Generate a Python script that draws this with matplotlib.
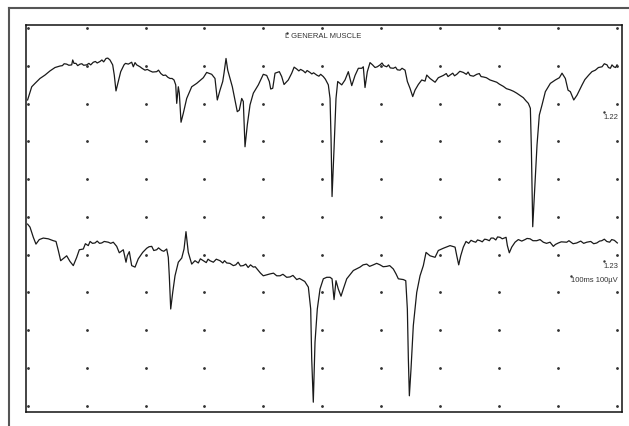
import numpy as np
import matplotlib
matplotlib.use("Agg")
import matplotlib.pyplot as plt
from matplotlib.lines import Line2D

plt.rcParams['font.family'] = ['Liberation Sans', 'DejaVu Sans']

# trace 1.22 : time (ms) and amplitude (uV)
t1 = [0, 7.0, 12.6, 21.0, 29.5, 38.0, 46.5, 55.0, 66.3, 74.8, 76.5, 78.7, 88.9, 100.2,
      111.4, 122.8, 133.0, 139.7, 144.3, 147.0, 149.9, 153.8, 157.9, 163.5, 170.8, 176.5,
      179.3, 182.2, 190.6, 199.1, 207.6, 218.9, 230.1, 241.5, 248.3, 251.2, 252.9, 255.6,
      257.3, 260.2, 264.1, 269.8, 278.3, 286.8, 298.0, 303.7, 312.2, 317.8, 321.7, 326.3,
      330.9, 333.1, 336.5, 339.4, 343.3, 347.2, 351.7, 355.6, 359.0, 363.1, 365.8, 368.7,
      372.6, 377.2, 382.8, 391.3, 399.7, 405.5, 409.9, 412.3, 415.7, 419.6, 426.9, 430.9,
      434.9, 442.1, 447.9, 456.4, 467.6, 478.9, 490.3, 501.5, 510.0, 512.9, 514.6, 516.3,
      519.7, 523.0, 525.9, 532.7, 538.3, 543.9, 549.7, 555.3, 560.9, 566.6, 569.3, 572.2,
      576.1, 580.7, 589.2, 597.7, 609.0, 620.2, 631.6, 640.1, 644.0, 648.5, 653.1, 657.0,
      662.6, 668.4, 674.0, 676.9, 682.5, 691.0, 696.5, 705.0, 716.4, 727.8, 738.9, 750.3,
      761.7, 772.9, 784.2, 795.6, 806.8, 818.1, 829.5, 840.7, 849.2, 852.6, 854.3, 856.6,
      860.0, 863.9, 867.8, 872.4, 878.0, 886.5, 895.0, 901.8, 906.3, 911.9, 916.5, 920.4,
      926.2, 931.8, 940.3, 951.6, 962.8, 974.2, 982.6, 988.3, 994.0, 999.6]
a1 = [-90, -55, -46, -33, -24, -13, -4, 0, 5, 3, 16, 7, 5, 3,
      10, 12, 20, 16, 3, -24, -66, -41, -15, 3, 5, 10,
      -2, 9, -2, -11, -13, -15, -25, -33, -37, -50, -99, -55,
      -72, -149, -125, -86, -55, -46, -31, -17, -22, -33, -90, -64,
      -41, -19, 20, -11, -33, -55, -90, -121, -117, -86, -94, -214,
      -156, -103, -72, -50, -22, -25, -41, -61, -59, -19, -15, -28,
      -49, -37, -19, -8, -13, -17, -24, -28, -50, -86, -192, -346,
      -218, -86, -41, -50, -37, -15, -52, -25, -6, -6, -2, -57,
      -15, 9, -4, 3, -2, -6, -11, -11, -41, -59, -81, -64,
      -49, -37, -40, -24, -33, -43, -31, -25, -24, -22, -17, -25,
      -22, -29, -37, -43, -54, -63, -72, -84, -99, -112, -218, -426,
      -324, -209, -130, -103, -68, -46, -37, -31, -19, -33, -64, -68,
      -90, -77, -50, -24, -11, -2, 3, -6, -2, 3]
# fine ripple read along the flatter stretches of 1.22
t1_fine = [59, 62, 70, 82, 85, 92, 95, 104, 107, 115, 118, 126, 129, 136,
           166, 185, 194, 203, 212, 222, 226, 234, 238, 245,
           452, 460, 463, 471, 474, 482, 485, 494, 497, 505,
           585, 593, 601, 604, 612, 615, 624, 627, 635,
           710, 713, 721, 724, 733, 744, 747, 756, 766, 769, 778, 790, 800, 812, 824, 835, 845,
           945, 957, 968, 978, 985, 991, 997]
a1_fine = [1, 6, 2, 7, 1, 6, 2, 7, 3, 12, 8, 16, 11, 21,
           7, 3, -6, -9, -16, -11, -20, -24, -30, -33,
           -3, -13, -9, -18, -12, -21, -18, -27, -22, -35,
           3, -2, 8, 1, 3, -5, -3, -10, -6,
           -20, -28, -19, -26, -14, -22, -16, -27, -20, -28, -31, -40, -48, -60, -67, -78, -92,
           -36, -15, -4, 6, -4, 3, -4]

# trace 1.23
t2 = [0, 4.1, 9.7, 14.2, 19.8, 26.6, 35.1, 43.6, 48.2, 52.1, 56.1, 61.7, 66.3, 71.9,
      77.5, 83.3, 87.7, 94.5, 102.9, 114.3, 125.7, 136.9, 145.3, 151.1, 155.5, 162.3,
      166.9, 169.1, 172.5, 176.5, 182.2, 187.7, 195.2, 202.0, 210.5, 218.9, 227.4, 235.9,
      238.6, 240.3, 242.7, 246.1, 250.0, 255.6, 261.4, 265.3, 268.6, 272.5, 278.3, 283.9,
      289.5, 298.0, 309.3, 326.3, 337.7, 348.9, 365.8, 382.8, 391.3, 399.7, 411.1, 422.5,
      439.4, 456.4, 467.6, 476.1, 480.1, 481.8, 484.5, 487.4, 491.3, 495.9, 501.5, 507.3,
      512.9, 516.3, 519.7, 523.0, 526.9, 531.5, 535.4, 541.2, 552.4, 563.7, 575.1, 586.3,
      597.7, 609.0, 620.2, 624.8, 628.7, 637.2, 641.3, 644.0, 645.7, 647.4, 650.2, 654.1,
      659.9, 665.5, 671.1, 675.7, 682.5, 691.0, 696.5, 705.0, 716.4, 724.9, 727.8, 731.1,
      734.5, 738.9, 743.5, 755.9, 767.3, 778.6, 789.8, 801.2, 811.4, 813.6, 816.9, 821.0,
      826.6, 832.2, 843.6, 852.1, 863.4, 874.6, 886.0, 891.6, 900.1, 914.3, 931.2, 948.2,
      965.2, 973.7, 982.2, 990.6, 1000.1]
a2 = [48, 40, 13, -5, 7, 11, 9, 4, 2, -22, -49, -42, -36, -51,
      -62, -40, -20, -18, -9, -2, -2, 0, 0, -11, -28, -20,
      -53, -36, -25, -62, -66, -44, -27, -16, -11, -20, -22, -18,
      -40, -89, -177, -133, -89, -53, -42, -18, 28, -27, -58, -49,
      -55, -49, -49, -49, -55, -62, -62, -66, -75, -89, -84, -89,
      -93, -99, -102, -119, -177, -309, -424, -265, -177, -124, -97, -93,
      -93, -97, -152, -102, -124, -143, -124, -97, -75, -66, -58, -60,
      -60, -64, -71, -84, -97, -99, -102, -177, -309, -407, -336, -221,
      -133, -89, -62, -27, -36, -40, -22, -16, -9, -13, -36, -60,
      -36, -13, 2, 2, 4, 7, 11, 13, 13, -9, -28, -13,
      0, 7, 7, 9, 4, 0, 0, -11, -2, 0, -2, 0,
      -2, 4, 2, 7, -2]
t2_fine = [98, 106, 110, 118, 122, 130, 141,
           206, 214, 222, 231,
           293, 303, 306, 315, 320, 331, 334, 343, 353, 357, 361, 370, 374, 378,
           386, 395, 404, 417, 428, 433, 445, 450, 461, 470,
           569, 580, 592, 603, 614,
           748, 752, 760, 763, 771, 775, 783, 786, 794, 797, 805,
           838, 847, 857, 869, 880, 895, 905, 918, 925, 938, 943, 955, 960, 970, 978, 987, 995]
a2_fine = [-4, 2, -3, 3, -3, 2, -3,
           -12, -22, -15, -24,
           -44, -54, -45, -53, -45, -55, -49, -56, -60, -53, -63, -58, -67, -60,
           -65, -82, -87, -82, -89, -85, -92, -88, -96, -104,
           -60, -64, -56, -65, -62,
           -3, 5, 0, 6, 1, 8, 4, 11, 6, 14, 9,
           3, 10, 4, 7, -3, -6, 1, 4, -4, 3, -3, 2, -4, 3, 8, 0, 5]

offset1 = -100
offset2 = -567


def merged(t, a, tf, af):
    tt = np.array(t + tf, dtype=float)
    aa = np.array(a + af, dtype=float)
    order = np.argsort(tt, kind='stable')
    return tt[order], aa[order]


fig = plt.figure(figsize=(6.29, 4.27), dpi=100)
ax = fig.add_axes([26 / 629, 14 / 427, 596 / 629, 387 / 427])

# grid dots
gx, gy = np.meshgrid(np.arange(0, 1001, 100), np.arange(0, -1001, -100))
ax.plot(gx.ravel(), gy.ravel(), ls='none', marker='.', ms=2.0, color='#333333')

x1, y1 = merged(t1, a1, t1_fine, a1_fine)
x2, y2 = merged(t2, a2, t2_fine, a2_fine)
ax.plot(x1, y1 + offset1, color='#1a1a1a', lw=0.9)
ax.plot(x2, y2 + offset2, color='#1a1a1a', lw=0.9)

ax.set_xlim(-2.7, 1008)
ax.set_ylim(-1017, 8.7)
ax.set_xticks([])
ax.set_yticks([])
for s in ax.spines.values():
    s.set_linewidth(1.1)
    s.set_color('#111111')

txt = dict(fontsize=5.5, color='#333333', va='center')
ax.text(437, -20, "L GENERAL MUSCLE", ha='left', **txt)
ax.text(1001, -234, "1.22", ha='right', **txt)
ax.text(1001, -629, "1.23", ha='right', **txt)
ax.text(1000, -666, "100ms 100\u00b5V", ha='right', **txt)
# small cursor marks over the labels
ax.plot([440, 977, 977, 922], [-12, -221, -616, -656], ls='none', marker='.', ms=1.5, color='#333333')

# outer frame (top and left)
fig.add_artist(Line2D([9 / 629, 1], [1 - 9 / 427, 1 - 9 / 427], color='#555555', lw=1.5))
fig.add_artist(Line2D([9 / 629, 9 / 629], [0, 1 - 9 / 427], color='#555555', lw=1.5))

fig.savefig("out.png", dpi=100)
